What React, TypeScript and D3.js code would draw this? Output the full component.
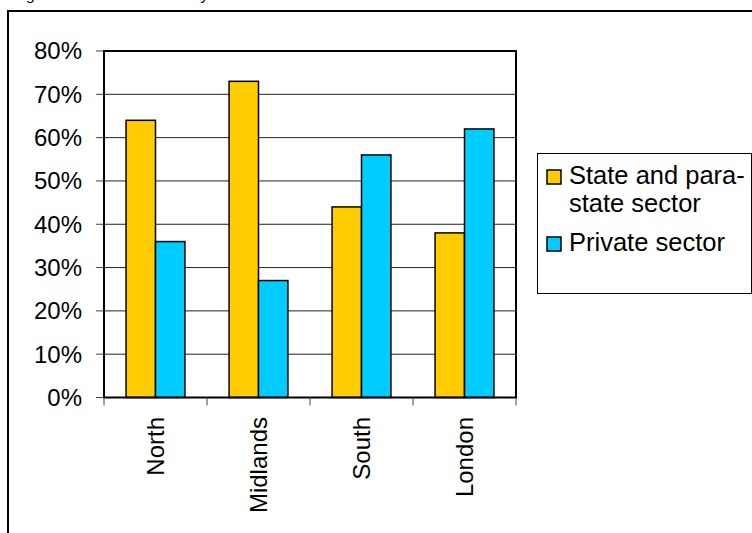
import React from "react";
import * as d3 from "d3";

const categories = ["North", "Midlands", "South", "London"];
const seriesNames = ["State and para-state sector", "Private sector"];
const stateValues = [64, 73, 44, 38];
const privateValues = [36, 27, 56, 62];
const yTicks = [0, 10, 20, 30, 40, 50, 60, 70, 80];
const legendLines = [["State and para-", "state sector"], ["Private sector"]];
const titleText = "Figure 5: Location of staff by sector";

const COLORS = ["#FFCC00", "#00CCFF"];
const FONT = "'Liberation Sans', Arial, sans-serif";

export default function App() {
  const W = 752, H = 533;
  const plot = { left: 104, right: 516, top: 51, bottom: 397.5 };
  const x = d3.scaleBand<string>().domain(categories).range([plot.left, plot.right]).padding(0);
  const y = d3.scaleLinear().domain([0, 80]).range([plot.bottom, plot.top]);
  const bw = x.bandwidth() / 3.5;
  const series = [stateValues, privateValues];

  return (
    <svg width={W} height={H} style={{ position: "absolute", left: 0, top: 0, background: "#fff" }} fontFamily={FONT}>
      <rect x={0} y={0} width={W} height={H} fill="#fff" />
      <text x={13} y={-0.5} fontSize={15.5} fill="#000">{titleText}</text>
      {/* outer frame */}
      <path d={`M8,${H + 5} L8,11 L${W + 5},11`} fill="none" stroke="#000" strokeWidth={2} />
      {/* gridlines */}
      {yTicks.map((t) => (
        <line key={"g" + t} x1={plot.left} x2={plot.right} y1={y(t)} y2={y(t)} stroke="#222" strokeWidth={1} />
      ))}
      {/* y ticks */}
      {yTicks.map((t) => (
        <g key={"t" + t}>
          <line x1={96} x2={plot.left} y1={y(t)} y2={y(t)} stroke="#444" strokeWidth={1} />
          <text x={82} y={y(t)} dy="0.35em" textAnchor="end" fontSize={24} fill="#000">{t}%</text>
        </g>
      ))}
      {/* bars */}
      {categories.map((c, i) => (
        <g key={c}>
          {series.map((s, j) => {
            const bx = (x(c) as number) + bw * 0.75 + j * bw;
            return (
              <rect key={j} x={bx} y={y(s[i])} width={bw} height={plot.bottom - y(s[i])}
                fill={COLORS[j]} stroke="#000" strokeWidth={1.5} />
            );
          })}
        </g>
      ))}
      {/* plot border */}
      <rect x={plot.left} y={plot.top} width={plot.right - plot.left} height={plot.bottom - plot.top}
        fill="none" stroke="#000" strokeWidth={2} />
      {/* x ticks */}
      {[...categories.map((c) => x(c) as number), plot.right].map((tx, i) => (
        <line key={"xt" + i} x1={tx} x2={tx} y1={plot.bottom} y2={plot.bottom + 8} stroke="#444" strokeWidth={1} />
      ))}
      {/* category labels */}
      {categories.map((c) => {
        const cx = (x(c) as number) + x.bandwidth() / 2;
        return (
          <text key={"l" + c} transform={`translate(${cx + 8},417) rotate(-90)`} textAnchor="end" fontSize={24} fill="#000">{c}</text>
        );
      })}
      {/* legend */}
      <rect x={537.5} y={153.5} width={W - 538} height={140} fill="#fff" stroke="#000" strokeWidth={1} />
      {legendLines.map((lines, j) => {
        const base = j === 0 ? 183.5 : 250.5;
        return (
          <g key={"lg" + j}>
            <rect x={547} y={base - 13.5} width={14} height={14} fill={COLORS[j]} stroke="#000" strokeWidth={1.5} />
            <text x={569} y={base} fontSize={25.5} fill="#000">
              {lines.map((ln, k) => (
                <tspan key={k} x={569} dy={k === 0 ? 0 : 28.3}>{ln}</tspan>
              ))}
            </text>
          </g>
        );
      })}
      <title>{seriesNames.join(", ")}</title>
    </svg>
  );
}
